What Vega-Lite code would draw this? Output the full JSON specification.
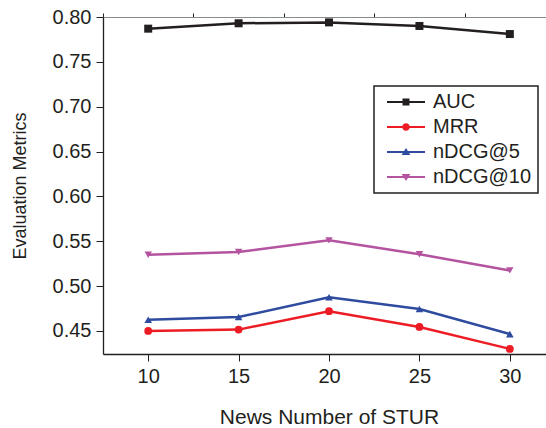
{
  "$schema": "https://vega.github.io/schema/vega-lite/v6.json",
  "width": 443,
  "height": 337,
  "autosize": {"type": "none"},
  "padding": {"left": 103, "top": 17, "right": 0, "bottom": 74},
  "background": "white",
  "config": {
    "view": {"stroke": null},
    "font": "Liberation Sans",
    "axis": {"grid": false, "labelFont": "Liberation Sans", "titleFont": "Liberation Sans", "labelColor": "#231f20", "titleColor": "#231f20", "domainColor": "#231f20", "tickColor": "#231f20", "titleFontWeight": "normal"}
  },
  "data": {"values": [
    {"x": 10, "metric": "AUC", "value": 0.787},
    {"x": 15, "metric": "AUC", "value": 0.793},
    {"x": 20, "metric": "AUC", "value": 0.794},
    {"x": 25, "metric": "AUC", "value": 0.790},
    {"x": 30, "metric": "AUC", "value": 0.781},
    {"x": 10, "metric": "MRR", "value": 0.450},
    {"x": 15, "metric": "MRR", "value": 0.4515},
    {"x": 20, "metric": "MRR", "value": 0.472},
    {"x": 25, "metric": "MRR", "value": 0.4545},
    {"x": 30, "metric": "MRR", "value": 0.430},
    {"x": 10, "metric": "nDCG@5", "value": 0.4625},
    {"x": 15, "metric": "nDCG@5", "value": 0.4655},
    {"x": 20, "metric": "nDCG@5", "value": 0.4875},
    {"x": 25, "metric": "nDCG@5", "value": 0.4745},
    {"x": 30, "metric": "nDCG@5", "value": 0.4465},
    {"x": 10, "metric": "nDCG@10", "value": 0.535},
    {"x": 15, "metric": "nDCG@10", "value": 0.538},
    {"x": 20, "metric": "nDCG@10", "value": 0.551},
    {"x": 25, "metric": "nDCG@10", "value": 0.5355},
    {"x": 30, "metric": "nDCG@10", "value": 0.5175}
  ]},
  "resolve": {"axis": {"x": "independent", "y": "independent"}},
  "layer": [
    {
      "mark": {"type": "line", "strokeWidth": 2.5},
      "encoding": {
        "x": {"field": "x", "type": "quantitative", "scale": {"domain": [7.5, 32], "nice": false, "zero": false},
          "axis": {"values": [10, 15, 20, 25, 30], "format": "d", "title": "News Number of STUR", "labelFontSize": 20, "titleFontSize": 21, "tickSize": 7, "labelPadding": 5, "titlePadding": 20, "titleX": 226, "titleAnchor": "start", "titleAlign": "center", "domainWidth": 1.3, "labelFlush": false}},
        "y": {"field": "value", "type": "quantitative", "scale": {"domain": [0.4243, 0.8], "nice": false, "zero": false},
          "axis": {"values": [0.45, 0.5, 0.55, 0.6, 0.65, 0.7, 0.75, 0.8], "format": ".2f", "title": "Evaluation Metrics", "labelFontSize": 20, "titleFontSize": 18, "tickSize": 7, "labelPadding": 5, "titlePadding": 23, "domainWidth": 1.3, "labelFlush": false}},
        "color": {"field": "metric", "type": "nominal", "scale": {"domain": ["AUC", "MRR", "nDCG@5", "nDCG@10"], "range": ["#231f20", "#ed1c24", "#2e4b9f", "#b4539f"]}, "legend": null}
      }
    },
    {
      "mark": {"type": "point", "filled": true, "opacity": 1},
      "encoding": {
        "x": {"field": "x", "type": "quantitative", "axis": null},
        "y": {"field": "value", "type": "quantitative", "axis": null},
        "size": {"field": "metric", "type": "nominal", "scale": {"domain": ["AUC", "MRR", "nDCG@5", "nDCG@10"], "range": [64, 55, 85, 85]}, "legend": null},
        "shape": {"field": "metric", "type": "nominal", "scale": {"domain": ["AUC", "MRR", "nDCG@5", "nDCG@10"], "range": ["square", "circle", "triangle-up", "triangle-down"]}, "legend": null},
        "color": {"field": "metric", "type": "nominal", "legend": null}
      }
    },
    {
      "mark": {"type": "point", "filled": true, "opacity": 0},
      "encoding": {
        "x": {"field": "x", "type": "quantitative", "axis": null},
        "y": {"field": "value", "type": "quantitative", "axis": null},
        "fill": {"field": "metric", "type": "nominal", "sort": ["AUC", "MRR", "nDCG@5", "nDCG@10"], "scale": {"range": ["#231f20", "#ed1c24", "#2e4b9f", "#b4539f"]},
          "legend": {
            "orient": "none", "legendX": 271, "legendY": 69, "title": null,
            "padding": 6, "strokeColor": "#231f20", "fillColor": "white",
            "labelFont": "Liberation Sans", "labelFontSize": 20, "labelColor": "#231f20",
            "labelExpr": "datum.label + '\u00a0\u00a0\u00a0'",
            "symbolSize": 400, "symbolStrokeWidth": 0, "symbolOpacity": 1, "symbolOffset": 16, "labelOffset": 17, "rowPadding": 5,
            "encoding": {
              "legend": {"strokeWidth": {"value": 1.5}},
              "symbols": {"shape": {"value": {"expr": "datum.value === 'AUC' ? 'M-1.9,-0.11H1.9V0.11H-1.9Z M-0.35,-0.35H0.35V0.35H-0.35Z' : datum.value === 'MRR' ? 'M-1.9,-0.11H1.9V0.11H-1.9Z M0.38,0A0.38,0.38 0 1,1 -0.38,0A0.38,0.38 0 1,1 0.38,0Z' : datum.value === 'nDCG@5' ? 'M-1.9,-0.11H1.9V0.11H-1.9Z M0,-0.4L0.44,0.3L-0.44,0.3Z' : 'M-1.9,-0.11H1.9V0.11H-1.9Z M0,0.4L-0.44,-0.3L0.44,-0.3Z'"}}}}
          }}
      }
    },
    {
      "mark": {"type": "point", "opacity": 0},
      "encoding": {
        "x": {"field": "x", "type": "quantitative", "axis": {"values": [7.5, 12.5, 17.5, 22.5, 27.5], "labels": false, "domain": false, "tickSize": 4, "title": null}},
        "y": {"field": "value", "type": "quantitative", "axis": {"values": [0.425, 0.475, 0.525, 0.575, 0.625, 0.675, 0.725, 0.775], "labels": false, "domain": false, "tickSize": 4, "title": null}}
      }
    },
    {
      "mark": {"type": "point", "opacity": 0},
      "encoding": {
        "x": {"field": "x", "type": "quantitative", "axis": {"orient": "top", "labels": false, "ticks": false, "domainColor": "#8a8a8a", "domainWidth": 1.2, "title": null}},
        "y": {"field": "value", "type": "quantitative", "axis": null}
      }
    }
  ]
}
